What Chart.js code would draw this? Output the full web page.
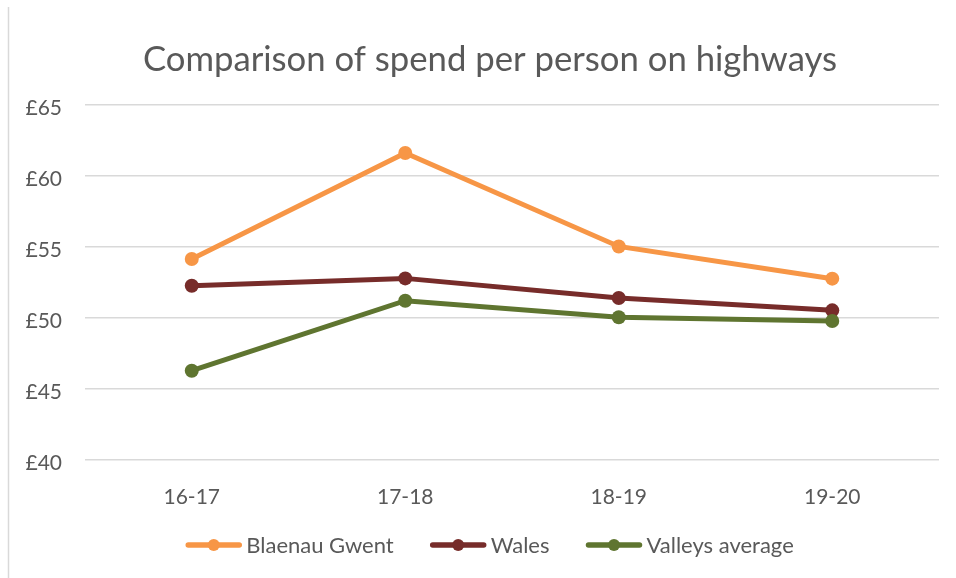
<!DOCTYPE html>
<html><head><meta charset="utf-8">
<script src="https://cdn.jsdelivr.net/npm/chart.js@4.4.1/dist/chart.umd.min.js"></script>
<style>html,body{margin:0;padding:0;background:#fff}#wrap{width:956px;height:578px;position:relative}</style>
</head><body><div id="wrap"><canvas id="c" width="956" height="578"></canvas></div>
<script>
const categories = ['16-17', '17-18', '18-19', '19-20'];
const blaenauGwent = [54.15, 61.62, 55.04, 52.77];
const wales = [52.27, 52.79, 51.41, 50.54];
const valleysAverage = [46.29, 51.22, 50.05, 49.79];
const seriesNames = ['Blaenau Gwent', 'Wales', 'Valleys average'];
const seriesValues = [blaenauGwent, wales, valleysAverage];
const seriesColors = ['#F79646', '#772C2A', '#5F7530'];
const yMin = 40, yMax = 65, yStep = 5;
const titleText = 'Comparison of spend per person on highways';

const TEXT = '#595959';
const FONT = 'Lato';

const decorPlugin = {
  id: 'decor',
  beforeDraw(chart) {
    const ctx = chart.ctx;
    ctx.save();
    ctx.strokeStyle = '#D9D9D9';
    ctx.lineWidth = 1.5;
    ctx.beginPath();
    ctx.moveTo(8.5, 7);
    ctx.lineTo(8.5, chart.height);
    ctx.stroke();
    ctx.restore();
  },
  afterDraw(chart) {
    const ctx = chart.ctx;
    ctx.save();
    // title
    ctx.fillStyle = TEXT;
    ctx.font = '34.7px ' + FONT;
    ctx.textAlign = 'center';
    ctx.textBaseline = 'alphabetic';
    ctx.fillText(titleText, 490, 71);
    // legend
    ctx.font = '22px ' + FONT;
    const lineLen = 55, gapText = 5, gapItem = 37, cy = 545;
    let total = 0;
    const widths = chart.data.datasets.map(d => ctx.measureText(d.label).width);
    widths.forEach((w, i) => { total += lineLen + gapText + w + (i ? gapItem : 0); });
    let x = 490 - total / 2;
    chart.data.datasets.forEach((d, i) => {
      ctx.strokeStyle = d.borderColor;
      ctx.lineWidth = 5.5;
      ctx.lineCap = 'round';
      ctx.beginPath();
      ctx.moveTo(x + 2, cy);
      ctx.lineTo(x + lineLen - 2, cy);
      ctx.stroke();
      ctx.fillStyle = d.borderColor;
      ctx.beginPath();
      ctx.arc(x + lineLen / 2, cy, 6, 0, Math.PI * 2);
      ctx.fill();
      ctx.fillStyle = TEXT;
      ctx.textAlign = 'left';
      ctx.textBaseline = 'middle';
      ctx.fillText(d.label, x + lineLen + gapText, cy + 1);
      x += lineLen + gapText + widths[i] + gapItem;
    });
    ctx.restore();
  }
};

new Chart(document.getElementById('c'), {
  type: 'line',
  data: {
    labels: categories,
    datasets: seriesNames.map((name, i) => ({
      label: name,
      data: seriesValues[i],
      borderColor: seriesColors[i],
      backgroundColor: seriesColors[i],
      pointBackgroundColor: seriesColors[i],
      pointBorderWidth: 0,
      pointRadius: 7,
      borderWidth: 5,
      tension: 0,
      fill: false,
      order: seriesNames.length - i
    }))
  },
  options: {
    responsive: false,
    devicePixelRatio: 1,
    animation: false,
    layout: { padding: { top: 105, right: 17, left: 0, bottom: 0 } },
    plugins: { legend: { display: false }, title: { display: false }, tooltip: { enabled: false } },
    scales: {
      x: {
        offset: true,
        grid: { display: false, drawTicks: false },
        border: { display: false },
        ticks: { color: TEXT, font: { family: FONT, size: 21 }, padding: 25 },
        afterFit(s) { s.height = 118; }
      },
      y: {
        min: yMin, max: yMax,
        grid: { color: '#D9D9D9', lineWidth: 1.5, drawTicks: false },
        border: { display: false },
        ticks: { stepSize: yStep, color: TEXT, font: { family: FONT, size: 21 }, padding: 23,
                 labelOffset: 3, callback: v => '£' + v },
        afterFit(s) { s.width = 85; }
      }
    }
  },
  plugins: [decorPlugin]
});
</script></body></html>
